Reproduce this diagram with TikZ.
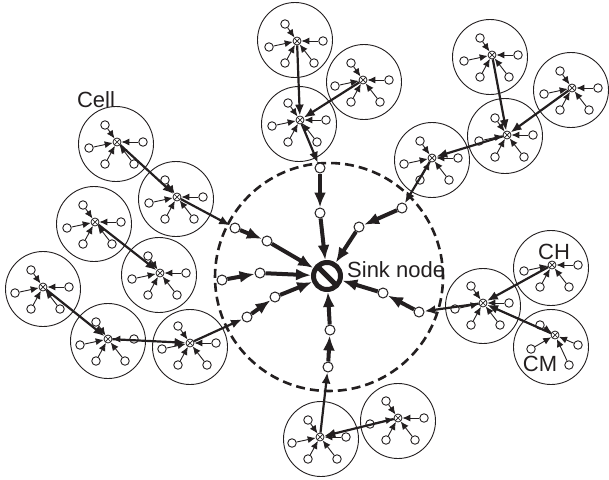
\documentclass[tikz,border=0pt]{standalone}
\usepackage{fontspec}
\setmainfont{Liberation Sans}
\usepackage{tikz}
\usetikzlibrary{
  arrows.meta,
  positioning
}
\definecolor{inkcolor}{RGB}{35, 31, 32}
\tikzset{
cellcircle/.style={
  draw=inkcolor,
  line width=0.9pt
},
rangecircle/.style={
  draw=inkcolor,
  line width=2.6pt,
  dash pattern=on 9pt off 5pt
},
chnode/.style={
  circle,
  draw=inkcolor,
  fill=white,
  line width=0.8pt,
  minimum size=8pt,
  inner sep=0pt,
  path picture={
    \draw[inkcolor, line width=0.7pt]
      (path picture bounding box.south west) -- (path picture bounding box.north east)
      (path picture bounding box.north west) -- (path picture bounding box.south east);
  }
},
cmnode/.style={
  circle,
  draw=inkcolor,
  fill=white,
  line width=0.9pt,
  minimum size=8.5pt,
  inner sep=0pt
},
relaynode/.style={
  circle,
  draw=inkcolor,
  fill=white,
  line width=1pt,
  minimum size=10pt,
  inner sep=0pt
},
sinknode/.style={
  circle,
  draw=inkcolor,
  fill=white,
  line width=5pt,
  minimum size=27pt,
  inner sep=0pt,
  path picture={
    \draw[inkcolor, line width=5pt]
      (path picture bounding box.north west) -- (path picture bounding box.south east);
  }
},
celllabel/.style={
  font=\fontsize{22}{26}\selectfont,
  text=inkcolor,
  inner sep=0pt
},
cmarrow/.style={
  -{Latex[length=8pt,width=7pt]},
  line width=0.9pt,
  draw=inkcolor
},
charrow/.style={
  -{Latex[length=11pt,width=9pt]},
  line width=2.2pt,
  draw=inkcolor
},
relayarrow/.style={
  -{Latex[length=15pt,width=12pt]},
  line width=4pt,
  draw=inkcolor
}
}

\begin{document}
\begin{tikzpicture}[x=1pt, y=-1pt]
  \useasboundingbox (0,0) rectangle (609,479);

  % Cell borders
  \foreach \cx/\cy in {295/40, 364/82, 299/124, 490/57, 571/90, 505/136, 432/160,
      116/144, 176/199, 94/224, 159/275, 43/289, 108/341, 190/347,
      483/306, 551/268, 551/347, 321/439, 398/421}
    \draw[cellcircle] (\cx,\cy) circle[radius=37.5pt];

  % Cluster heads with their members
  \foreach \name/\cx/\cy/\hasul in {chA1/297/41/1, chA2/363/80/1, chA3/300/120/1,
      chB1/492/55/1, chB2/572/88/1, chB3/507/135/1, chB4/432/158/1,
      chC1/117/142/1, chC2/177/197/1, chD1/95/222/1, chD2/160/273/1,
      chE1/43/287/1, chE2/108/339/1, chE3/190/343/1,
      chF1/483/303/1, chF2/552/265/0, chG1/320/437/1, chG2/398/418/1}
  {
    \begin{scope}[shift={(\cx,\cy)}]
      \node[chnode] (\name) at (0,0) {};
      \ifnum\hasul=1
        \node[cmnode] (\name-ul) at (-12,-17) {};
        \draw[cmarrow] (\name-ul) -- (\name);
      \fi
      \node[cmnode] (\name-l) at (-28,6) {};
      \node[cmnode] (\name-r) at (26,0) {};
      \node[cmnode] (\name-ll) at (-12,22) {};
      \node[cmnode] (\name-lr) at (17,22) {};
      \foreach \m in {l, r, ll, lr}
        \draw[cmarrow] (\name-\m) -- (\name);
    \end{scope}
  }

  % Cell next to the CM label
  \node[chnode] (chF3) at (555,335) {};
  \node[cmnode] (chF3-ul) at (540,325) {};
  \node[cmnode] (chF3-l) at (531,349) {};
  \node[cmnode] (chF3-r) at (578,345) {};
  \node[cmnode] (chF3-lr) at (569,365) {};
  \foreach \m in {ul, l, r, lr}
    \draw[cmarrow] (chF3-\m) -- (chF3);

  % Sink area
  \draw[rangecircle] (329,277) circle[radius=114pt];
  \node[sinknode] (sink) at (327,276) {};
  \node[celllabel, right=4pt of sink, yshift=6pt] (sinktext) {Sink node};

  % Relay nodes
  \foreach \name/\cx/\cy in {relay1/320/168, relay2/320/213, relay3/402/208,
      relay4/359/227, relay5/235/228, relay6/267/241, relay7/222/280,
      relay8/260/273, relay9/247/317, relay10/275/297, relay11/328/367,
      relay12/330/330, relay13/419/312, relay14/383/293}
    \node[relaynode] (\name) at (\cx,\cy) {};

  % Links between cluster heads
  \draw[charrow] (chA1) -- (chA3);
  \draw[charrow] (chA2) -- (chA3);
  \draw[charrow] (chA3) -- (relay1);
  \draw[charrow] (chB1) -- (chB3);
  \draw[charrow] (chB2) -- (chB3);
  \draw[charrow] (chB3) -- (chB4);
  \draw[charrow] (chB4) -- (relay3);
  \draw[charrow] (chC1) -- (chC2);
  \draw[charrow] (chC2) -- (relay5);
  \draw[charrow] (chD1) -- (chD2);
  \draw[charrow] (chE1) -- (chE2);
  \draw[charrow] (chE2) -- (chE3);
  \draw[charrow] (chE3) -- (relay9);
  \draw[charrow] (chF2) -- (chF1);
  \draw[charrow] (chF3) -- (chF1);
  \draw[charrow] (chF1) -- (relay13);
  \draw[charrow] (chG2) -- (chG1);
  \draw[charrow] (chG1) -- (relay11);

  % Relaying towards the sink
  \draw[relayarrow] (relay1) -- (relay2);
  \draw[relayarrow] (relay2) -- (sink);
  \draw[relayarrow] (relay3) -- (relay4);
  \draw[relayarrow] (relay4) -- (sink);
  \draw[relayarrow] (relay5) -- (relay6);
  \draw[relayarrow] (relay6) -- (sink);
  \draw[relayarrow] (relay7) -- (relay8);
  \draw[relayarrow] (relay8) -- (sink);
  \draw[relayarrow] (relay9) -- (relay10);
  \draw[relayarrow] (relay10) -- (sink);
  \draw[relayarrow] (relay11) -- (relay12);
  \draw[relayarrow] (relay12) -- (sink);
  \draw[relayarrow] (relay13) -- (relay14);
  \draw[relayarrow] (relay14) -- (sink);

  % Labels
  \node[celllabel] (celltext) at (96,100) {Cell};
  \node[celllabel] (chtext) at (554,252) {CH};
  \node[celllabel] (cmtext) at (540,364) {CM};
\end{tikzpicture}
\end{document}
